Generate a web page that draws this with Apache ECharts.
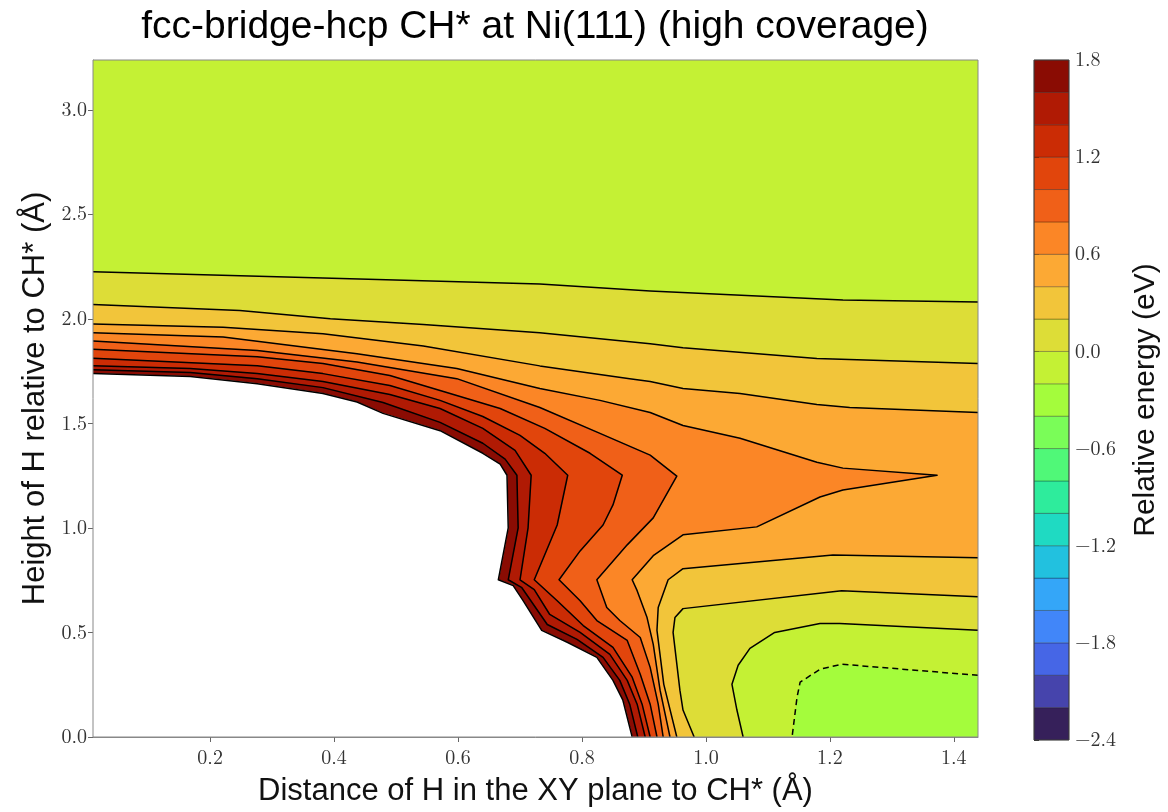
<!DOCTYPE html>
<html>
<head>
<meta charset="utf-8">
<script src="https://cdn.jsdelivr.net/npm/echarts@6/dist/echarts.min.js"></script>
<style>
  html, body { margin: 0; padding: 0; background: #ffffff; }
  #chart { width: 1168px; height: 812px; }
</style>
</head>
<body>
<div id="chart"></div>
<script>
// Extent of the scanned grid (Å)
const xRange = [0.011, 1.439];
const yRange = [0, 3.238];

// Contour levels (eV) and the colour of each filled band, lowest band first
const levels = [-2.4, -2.2, -2.0, -1.8, -1.6, -1.4, -1.2, -1.0, -0.8, -0.6, -0.4,
                -0.2, 0.0, 0.2, 0.4, 0.6, 0.8, 1.0, 1.2, 1.4, 1.6, 1.8];
const bandColors = ['#36205a', '#4644ac', '#4666e6', '#4186f9', '#34a6f8', '#22c1df',
                    '#1fdac2', '#2eec9c', '#50f878', '#7afd58', '#a4fc3c', '#c4f134',
                    '#dddd37', '#f2c53a', '#fca934', '#fb8626', '#f06018', '#e1450c',
                    '#cb2c05', '#b01a04', '#8a0c03'];

// Tick positions
const xTicks = [0.2, 0.4, 0.6, 0.8, 1.0, 1.2, 1.4];
const yTicks = [0.0, 0.5, 1.0, 1.5, 2.0, 2.5, 3.0];
const cbarTicks = [-2.4, -1.8, -1.2, -0.6, 0.0, 0.6, 1.2, 1.8];

// Iso-energy lines as [distance, height] pairs (Å)
// -0.2 eV: pocket in the lower right corner (right edge -> bottom edge)
const isoM02 = [[1.439, 0.295], [1.219, 0.348], [1.184, 0.324], [1.152, 0.262], [1.147, 0.190], [1.139, 0]];
// 0.0 eV
const iso00Upper = [[0.011, 2.225], [0.382, 2.195], [0.732, 2.167], [0.910, 2.133], [1.221, 2.090], [1.439, 2.081]];
const iso00Lower = [[1.439, 0.510], [1.216, 0.543], [1.184, 0.543], [1.111, 0.500], [1.071, 0.424], [1.052, 0.343],
                    [1.042, 0.252], [1.050, 0.129], [1.060, 0]];
// 0.2 eV
const iso02Upper = [[0.011, 2.068], [0.248, 2.040], [0.394, 2.000], [0.544, 1.973], [0.732, 1.933], [0.910, 1.881],
                    [0.963, 1.862], [1.179, 1.810], [1.439, 1.786]];
const iso02Lower = [[1.439, 0.671], [1.219, 0.700], [0.963, 0.614], [0.950, 0.571], [0.947, 0.500], [0.958, 0.224],
                    [0.963, 0.129], [0.981, 0]];
// 0.4 eV
const iso04Upper = [[0.011, 1.975], [0.221, 1.960], [0.382, 1.929], [0.544, 1.870], [0.732, 1.775], [0.877, 1.714],
                    [0.910, 1.700], [0.963, 1.667], [1.055, 1.643], [1.179, 1.590], [1.232, 1.576], [1.439, 1.552]];
const iso04Lower = [[1.439, 0.857], [1.205, 0.871], [0.963, 0.805], [0.939, 0.752], [0.923, 0.619], [0.921, 0.510],
                    [0.932, 0.252], [0.953, 0]];
// 0.6 eV: runs out to the ridge tip and back down to the surface
const iso06 = [[0.011, 1.933], [0.221, 1.913], [0.437, 1.833], [0.598, 1.762], [0.732, 1.667], [0.829, 1.610],
               [0.910, 1.552], [0.963, 1.490], [1.055, 1.429], [1.179, 1.314], [1.221, 1.286], [1.373, 1.252],
               [1.221, 1.181], [1.184, 1.148], [1.082, 1.005], [0.963, 0.967], [0.915, 0.867], [0.881, 0.752],
               [0.889, 0.700], [0.905, 0.571], [0.915, 0.443], [0.926, 0.224], [0.942, 0]];
// 0.8 eV
const iso08 = [[0.011, 1.894], [0.276, 1.849], [0.437, 1.794], [0.598, 1.714], [0.732, 1.576], [0.829, 1.452],
               [0.910, 1.348], [0.953, 1.248], [0.915, 1.048], [0.873, 0.919], [0.824, 0.752], [0.840, 0.619],
               [0.861, 0.557], [0.894, 0.476], [0.910, 0.333], [0.923, 0.157], [0.931, 0]];
// 1.0 eV
const iso10 = [[0.011, 1.854], [0.276, 1.819], [0.382, 1.786], [0.490, 1.729], [0.571, 1.657], [0.668, 1.571],
               [0.740, 1.476], [0.813, 1.357], [0.865, 1.252], [0.850, 1.110], [0.834, 1.014], [0.797, 0.890],
               [0.763, 0.752], [0.797, 0.652], [0.824, 0.557], [0.873, 0.462], [0.894, 0.300], [0.910, 0.157],
               [0.921, 0]];
// 1.2 eV
const iso12 = [[0.011, 1.812], [0.276, 1.776], [0.382, 1.738], [0.490, 1.681], [0.571, 1.610], [0.640, 1.533],
               [0.700, 1.443], [0.740, 1.357], [0.777, 1.252], [0.760, 1.014], [0.723, 0.752], [0.760, 0.652],
               [0.802, 0.533], [0.850, 0.429], [0.881, 0.286], [0.897, 0.157], [0.910, 0]];
// 1.4 eV
const iso14 = [[0.011, 1.776], [0.168, 1.762], [0.276, 1.738], [0.382, 1.700], [0.490, 1.638], [0.571, 1.571],
               [0.640, 1.476], [0.692, 1.371], [0.718, 1.252], [0.713, 1.000], [0.700, 0.752], [0.723, 0.705],
               [0.748, 0.586], [0.797, 0.500], [0.845, 0.395], [0.873, 0.271], [0.889, 0.157], [0.902, 0]];
// 1.6 eV
const iso16 = [[0.011, 1.757], [0.168, 1.743], [0.276, 1.714], [0.382, 1.671], [0.479, 1.600], [0.571, 1.505],
               [0.640, 1.405], [0.676, 1.329], [0.695, 1.252], [0.697, 1.000], [0.681, 0.752], [0.703, 0.714],
               [0.744, 0.538], [0.792, 0.467], [0.834, 0.381], [0.861, 0.271], [0.877, 0.157], [0.890, 0]];
// 1.8 eV: edge of the unfilled high-energy region
const iso18 = [[0.011, 1.738], [0.168, 1.724], [0.276, 1.690], [0.382, 1.643], [0.437, 1.602], [0.479, 1.548],
               [0.571, 1.465], [0.640, 1.357], [0.668, 1.305], [0.679, 1.252], [0.681, 1.000], [0.665, 0.752],
               [0.689, 0.724], [0.705, 0.652], [0.735, 0.510], [0.777, 0.452], [0.824, 0.381], [0.850, 0.271],
               [0.866, 0.176], [0.881, 0]];

// ---- build filled regions {E > level}, painted from the lowest level upwards ----
const BL = [xRange[0], yRange[0]], BR = [xRange[1], yRange[0]];
const TR = [xRange[1], yRange[1]], TL = [xRange[0], yRange[1]];
const bandOf = (lv) => bandColors[Math.round((lv - levels[0]) / 0.2)];

const regions = [
  { ring: [BL, BR, TR, TL], color: bandOf(-0.4) },
  { ring: [BL, ...isoM02.slice().reverse(), TR, TL], color: bandOf(-0.2) },
  { ring: [...iso00Upper, ...iso00Lower, BL], color: bandOf(0.0) },
  { ring: [...iso02Upper, ...iso02Lower, BL], color: bandOf(0.2) },
  { ring: [...iso04Upper, ...iso04Lower, BL], color: bandOf(0.4) },
  { ring: [...iso06, BL], color: bandOf(0.6) },
  { ring: [...iso08, BL], color: bandOf(0.8) },
  { ring: [...iso10, BL], color: bandOf(1.0) },
  { ring: [...iso12, BL], color: bandOf(1.2) },
  { ring: [...iso14, BL], color: bandOf(1.4) },
  { ring: [...iso16, BL], color: bandOf(1.6) },
  { ring: [...iso18, BL], color: '#ffffff' }
];

const isolines = [
  { level: -0.2, pts: isoM02 },
  { level: 0.0, pts: iso00Upper }, { level: 0.0, pts: iso00Lower },
  { level: 0.2, pts: iso02Upper }, { level: 0.2, pts: iso02Lower },
  { level: 0.4, pts: iso04Upper }, { level: 0.4, pts: iso04Lower },
  { level: 0.6, pts: iso06 }, { level: 0.8, pts: iso08 }, { level: 1.0, pts: iso10 },
  { level: 1.2, pts: iso12 }, { level: 1.4, pts: iso14 }, { level: 1.6, pts: iso16 },
  { level: 1.8, pts: iso18 }
];

const fmt = (v) => (v < 0 ? '\u2212' : '') + Math.abs(v).toFixed(1);
const serif = "'Latin Modern Roman', 'Liberation Serif', 'DejaVu Serif', serif";
const sans = "'Liberation Sans', 'DejaVu Sans', sans-serif";

const chart = echarts.init(document.getElementById('chart'), null, { renderer: 'canvas' });

chart.setOption({
  animation: false,
  backgroundColor: '#ffffff',
  graphic: [{
    type: 'text',
    x: 535, y: 8,
    style: {
      text: 'fcc-bridge-hcp CH* at Ni(111) (high coverage)',
      font: "39px " + sans,
      fill: '#000000',
      textAlign: 'center',
      textVerticalAlign: 'top'
    }
  }],
  grid: [
    { left: 93, top: 60, width: 885, height: 680 },
    { left: 1034, top: 60, width: 35, height: 680 }
  ],
  xAxis: [
    {
      type: 'value', gridIndex: 0, min: xRange[0], max: xRange[1],
      axisLine: { show: true, lineStyle: { color: '#888888', width: 1 } },
      axisTick: { show: true, customValues: xTicks, length: 5, lineStyle: { color: '#666666' } },
      axisLabel: { customValues: xTicks, formatter: fmt, fontFamily: serif, fontSize: 20, color: '#333333', margin: 11 },
      splitLine: { show: false },
      name: 'Distance of H in the XY plane to CH* (\u00c5)',
      nameLocation: 'middle', nameGap: 39,
      nameTextStyle: { fontFamily: sans, fontSize: 31, color: '#111111' }
    },
    { type: 'value', gridIndex: 1, min: 0, max: 1, show: false }
  ],
  yAxis: [
    {
      type: 'value', gridIndex: 0, min: yRange[0], max: yRange[1],
      axisLine: { show: true, lineStyle: { color: '#888888', width: 1 } },
      axisTick: { show: true, customValues: yTicks, length: 5, lineStyle: { color: '#666666' } },
      axisLabel: { customValues: yTicks, formatter: fmt, fontFamily: serif, fontSize: 20, color: '#333333', margin: 6 },
      splitLine: { show: false },
      name: 'Height of H relative to CH* (\u00c5)',
      nameLocation: 'middle', nameGap: 41, nameRotate: 90,
      nameTextStyle: { fontFamily: sans, fontSize: 31, color: '#111111' }
    },
    {
      type: 'value', gridIndex: 1, min: levels[0], max: levels[levels.length - 1], position: 'right',
      axisLine: { show: false },
      axisTick: { show: true, customValues: cbarTicks, length: 5, lineStyle: { color: '#333333' } },
      axisLabel: { customValues: cbarTicks, formatter: fmt, fontFamily: serif, fontSize: 20, color: '#333333', margin: 6 },
      splitLine: { show: false },
      name: 'Relative energy (eV)',
      nameLocation: 'middle', nameGap: 62, nameRotate: 90,
      nameTextStyle: { fontFamily: sans, fontSize: 30, color: '#111111' }
    }
  ],
  series: [
    {
      // filled energy bands
      type: 'custom', xAxisIndex: 0, yAxisIndex: 0, clip: true, z: 2,
      data: regions.map(() => [xRange[0], yRange[0]]),
      renderItem: (params, api) => {
        const r = regions[params.dataIndex];
        return {
          type: 'polygon',
          shape: { points: r.ring.map((p) => api.coord(p)) },
          style: { fill: r.color, stroke: r.color, lineWidth: 0.6 }
        };
      }
    },
    {
      // iso-energy lines, negative levels dashed
      type: 'custom', xAxisIndex: 0, yAxisIndex: 0, clip: true, z: 3,
      data: isolines.map((l) => [l.pts[0][0], l.pts[0][1]]),
      renderItem: (params, api) => {
        const l = isolines[params.dataIndex];
        return {
          type: 'polyline',
          shape: { points: l.pts.map((p) => api.coord(p)) },
          style: { fill: null, stroke: '#000000', lineWidth: 1.5,
                   lineDash: l.level < 0 ? [6, 4] : null, lineJoin: 'round' }
        };
      }
    },
    {
      // plot frame
      type: 'custom', xAxisIndex: 0, yAxisIndex: 0, clip: false, z: 10,
      data: [[xRange[0], yRange[0]]],
      renderItem: (params, api) => {
        const a = api.coord(BL), b = api.coord(TR);
        return {
          type: 'rect',
          shape: { x: a[0], y: b[1], width: b[0] - a[0], height: a[1] - b[1] },
          style: { fill: null, stroke: '#888888', lineWidth: 1 }
        };
      }
    },
    {
      // colour bar bands
      type: 'custom', xAxisIndex: 1, yAxisIndex: 1, clip: false, z: 2,
      data: bandColors.map((c, i) => [levels[i], levels[i + 1]]),
      renderItem: (params, api) => {
        const lo = api.value(0), hi = api.value(1);
        const a = api.coord([0, lo]), b = api.coord([1, hi]);
        return {
          type: 'rect',
          shape: { x: a[0], y: b[1], width: b[0] - a[0], height: a[1] - b[1] },
          style: { fill: bandColors[params.dataIndex], stroke: 'rgba(0,0,0,0.28)', lineWidth: 1 }
        };
      }
    },
    {
      // colour bar outline
      type: 'custom', xAxisIndex: 1, yAxisIndex: 1, clip: false, z: 10,
      data: [[0, levels[0]]],
      renderItem: (params, api) => {
        const a = api.coord([0, levels[0]]), b = api.coord([1, levels[levels.length - 1]]);
        return {
          type: 'rect',
          shape: { x: a[0], y: b[1], width: b[0] - a[0], height: a[1] - b[1] },
          style: { fill: null, stroke: '#444444', lineWidth: 1 }
        };
      }
    }
  ]
});
</script>
</body>
</html>
